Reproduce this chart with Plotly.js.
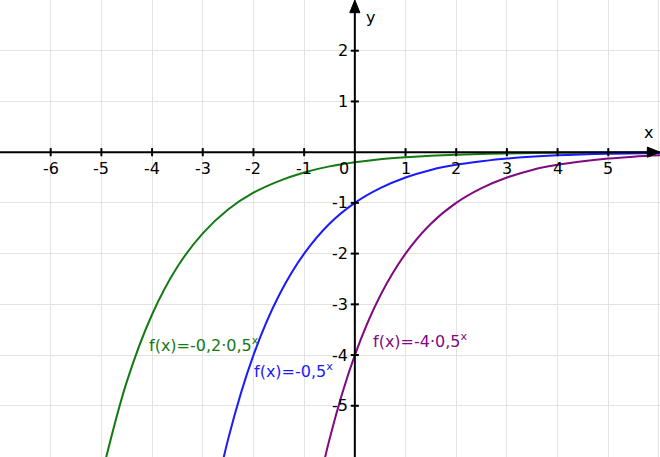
<!DOCTYPE html>
<html>
<head>
<meta charset="utf-8">
<script src="https://cdn.plot.ly/plotly-3.0.1.min.js"></script>
<style>
body { margin: 0; background: #fff; }
#chart { width: 660px; height: 457px; }
</style>
</head>
<body>
<div id="chart"></div>
<script>
// Werte
const xGruen = [-5, -4.5, -4, -3.5, -3, -2.5, -2, -1.5, -1, -0.5, 0, 0.5, 1, 1.5, 2, 3, 4, 5, 6.5];
const yGruen = [-6.4, -4.53, -3.2, -2.26, -1.6, -1.13, -0.8, -0.57, -0.4, -0.28, -0.2, -0.14, -0.1, -0.07, -0.05, -0.025, -0.013, -0.006, -0.002];

const xBlau = [-3, -2.5, -2, -1.5, -1, -0.5, 0, 0.5, 1, 1.5, 2, 2.5, 3, 4, 5, 6.5];
const yBlau = [-8, -5.66, -4, -2.83, -2, -1.41, -1, -0.71, -0.5, -0.35, -0.25, -0.18, -0.125, -0.063, -0.031, -0.011];

const xLila = [-1, -0.5, 0, 0.5, 1, 1.5, 2, 2.5, 3, 3.5, 4, 4.5, 5, 5.5, 6, 6.5];
const yLila = [-8, -5.66, -4, -2.83, -2, -1.41, -1, -0.71, -0.5, -0.35, -0.25, -0.18, -0.125, -0.088, -0.063, -0.044];

const xTicks = [-6, -5, -4, -3, -2, -1, 1, 2, 3, 4, 5];
const yTicks = [-5, -4, -3, -2, -1, 1, 2];

const kurven = [
	{x: xGruen, y: yGruen, farbe: '#137a13', text: 'f(x)=-0,2·0,5<sup>x</sup>', tx: -4.1, ty: -3.8},
	{x: xBlau, y: yBlau, farbe: '#1a1aff', text: 'f(x)=-0,5<sup>x</sup>', tx: -2.03, ty: -4.31},
	{x: xLila, y: yLila, farbe: '#800a80', text: 'f(x)=-4·0,5<sup>x</sup>', tx: 0.32, ty: -3.72}
];

const xMin = -7.0, xMax = 6.02, yMin = -6.01, yMax = 3.0;
const schrift = 'DejaVu Sans, Verdana, sans-serif';

var data = kurven.map(function(k){
	return {x: k.x, y: k.y, mode: 'lines', type: 'scatter',
		line: {color: k.farbe, width: 2, shape: 'spline'}, hoverinfo: 'skip'};
});

var shapes = [];
var annotations = [];

// Achsen
shapes.push({type: 'line', xref: 'x', yref: 'y', x0: xMin, x1: xMax - 0.15, y0: 0, y1: 0, line: {color: '#000', width: 2}});
shapes.push({type: 'line', xref: 'x', yref: 'y', x0: 0, x1: 0, y0: yMin, y1: yMax - 0.15, line: {color: '#000', width: 2}});
// Pfeilspitzen
shapes.push({type: 'path', xref: 'x', yref: 'y', path: 'M ' + xMax + ' 0 L ' + (xMax - 0.25) + ' 0.1 L ' + (xMax - 0.25) + ' -0.1 Z', fillcolor: '#000', line: {color: '#000', width: 1}});
shapes.push({type: 'path', xref: 'x', yref: 'y', path: 'M 0 ' + yMax + ' L 0.1 ' + (yMax - 0.25) + ' L -0.1 ' + (yMax - 0.25) + ' Z', fillcolor: '#000', line: {color: '#000', width: 1}});

xTicks.forEach(function(t){
	shapes.push({type: 'line', xref: 'x', yref: 'y', x0: t, x1: t, y0: -0.08, y1: 0.08, line: {color: '#000', width: 2}});
	annotations.push({x: t, y: 0, xref: 'x', yref: 'y', text: String(t), showarrow: false,
		yanchor: 'top', yshift: -5, font: {family: schrift, size: 16, color: '#000'}});
});
yTicks.forEach(function(t){
	shapes.push({type: 'line', xref: 'x', yref: 'y', x0: -0.08, x1: 0.08, y0: t, y1: t, line: {color: '#000', width: 2}});
	annotations.push({x: 0, y: t, xref: 'x', yref: 'y', text: String(t), showarrow: false,
		xanchor: 'right', xshift: -5, font: {family: schrift, size: 16, color: '#000'}});
});
annotations.push({x: 0, y: 0, xref: 'x', yref: 'y', text: '0', showarrow: false,
	xanchor: 'right', yanchor: 'top', xshift: -4, yshift: -5, font: {family: schrift, size: 16, color: '#000'}});
annotations.push({x: 0, y: yMax, xref: 'x', yref: 'y', text: 'y', showarrow: false,
	xanchor: 'left', yanchor: 'top', xshift: 9, yshift: -6, font: {family: schrift, size: 16, color: '#000'}});
annotations.push({x: xMax, y: 0, xref: 'x', yref: 'y', text: 'x', showarrow: false,
	xanchor: 'right', yanchor: 'bottom', xshift: -5, yshift: 8, font: {family: schrift, size: 16, color: '#000'}});

kurven.forEach(function(k){
	annotations.push({x: k.tx, y: k.ty, xref: 'x', yref: 'y', text: k.text, showarrow: false,
		xanchor: 'left', yanchor: 'middle', font: {family: schrift, size: 16, color: k.farbe}});
});

var achse = {
	showgrid: true, gridcolor: '#e3e3e3', gridwidth: 1, dtick: 1, tick0: 0,
	zeroline: false, showticklabels: false, ticks: '', showline: false, fixedrange: true
};

var layout = {
	width: 660, height: 457,
	margin: {l: 0, r: 0, t: 0, b: 0},
	paper_bgcolor: '#fff', plot_bgcolor: '#fff',
	showlegend: false,
	xaxis: Object.assign({range: [xMin, xMax]}, achse),
	yaxis: Object.assign({range: [yMin, yMax]}, achse),
	shapes: shapes,
	annotations: annotations
};

Plotly.newPlot('chart', data, layout, {displayModeBar: false, staticPlot: true});
</script>
</body>
</html>
